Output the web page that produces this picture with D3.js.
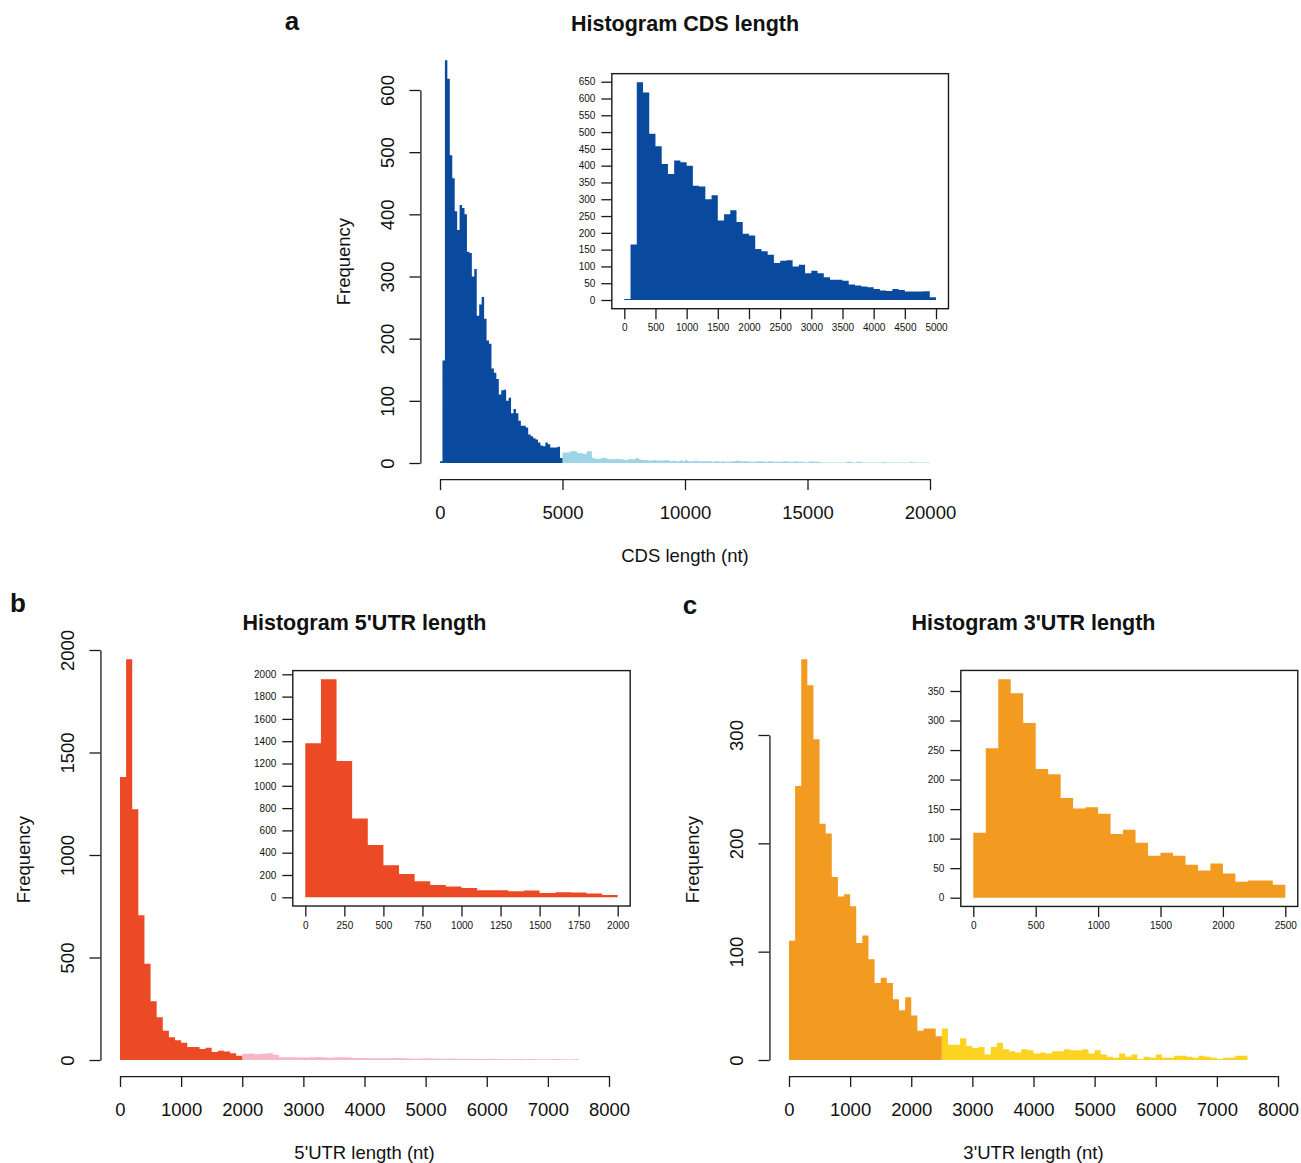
<!DOCTYPE html>
<html><head><meta charset="utf-8">
<script src="https://cdn.jsdelivr.net/npm/d3@7"></script>
<style>
body{margin:0;background:#fff}
svg{display:block}
text{font-family:"Liberation Sans",Arial,Helvetica,sans-serif;fill:#111}
</style>
</head><body>
<svg id="chart" width="1301" height="1163"></svg>
<script>
// ---------------- DATA ----------------
const binWidth = 100;

// CDS length, bins of 100 nt from 0 to 5000 (highlighted / inset)
const cdsCounts = [3,165,648,618,495,458,405,375,415,410,
  400,340,338,300,312,237,255,267,232,197,
  192,152,145,135,110,117,118,100,105,80,
  87,80,68,60,60,57,46,43,40,38,
  33,28,27,33,30,25,25,25,26,8];
// CDS length, bins of 100 nt from 5000 to 20000 (tail)
const cdsTailCounts = [17,17,17,19,19,19,16,16,15,15,
  19,19,8,7,7,7,8,8,7,6,
  6,6,7,6,6,5,5,7,6,6,
  8,6,5,5,5,4,4,5,4,4,
  4,4,5,4,3,4,3,3,4,3,
  5,3,3,3,4,3,3,3,3,3,
  3,2,3,3,2,3,2,2,2,3,
  3,4,3,3,3,3,2,2,2,3,
  3,3,2,2,3,3,2,2,2,2,
  3,3,2,2,2,3,2,2,2,1,
  2,3,2,2,2,1,1,1,1,1,
  1,1,1,1,1,1,2,2,1,1,
  2,2,1,1,1,1,1,1,1,1,
  1,2,1,1,1,1,1,1,1,1,
  1,1,2,1,1,1,1,1,1,1];

// 5'UTR length, bins of 100 nt from 0 to 2000
const utr5Counts = [1381,1955,1223,706,469,287,209,143,111,96,
  84,63,63,54,60,39,45,42,33,21];
// 5'UTR length, bins of 100 nt from 2000 to 7500
const utr5TailCounts = [30,32,28,30,33,26,14,14,13,12,
  12,13,15,12,11,13,14,12,10,10,
  9,8,9,8,9,10,8,7,6,7,
  8,7,6,6,7,6,5,6,5,5,
  6,5,5,4,5,5,4,5,4,4,
  4,5,4,3,4];

// 3'UTR length, bins of 100 nt from 0 to 2500
const utr3Counts = [110,253,370,346,296,218,209,169,151,153,
  142,108,115,93,71,76,71,56,46,58,
  41,27,29,29,22];
// 3'UTR length, bins of 100 nt from 2500 to 7500
const utr3TailCounts = [29,14,14,20,13,11,12,5,12,16,
  10,8,7,10,9,6,7,6,8,8,
  10,9,9,10,6,9,5,3,2,6,
  3,5,1,3,2,5,2,2,4,4,
  3,2,4,3,2,1,2,2,4,4];

// tick labels
const cdsXTicks = [0,5000,10000,15000,20000];
const cdsYTicks = [0,100,200,300,400,500,600];
const cdsInsetXTicks = d3.range(0,5001,500);
const cdsInsetYTicks = d3.range(0,651,50);
const utr5XTicks = d3.range(0,8001,1000);
const utr5YTicks = [0,500,1000,1500,2000];
const utr5InsetXTicks = d3.range(0,2001,250);
const utr5InsetYTicks = d3.range(0,2001,200);
const utr3XTicks = d3.range(0,8001,1000);
const utr3YTicks = [0,100,200,300];
const utr3InsetXTicks = d3.range(0,2501,500);
const utr3InsetYTicks = d3.range(0,351,50);

// titles
const titles = ["Histogram CDS length","Histogram 5'UTR length","Histogram 3'UTR length"];
const xTitles = ["CDS length (nt)","5'UTR length (nt)","3'UTR length (nt)"];
const panelLetters = ["a","b","c"];

// ---------------- DRAWING ----------------
const svg = d3.select("#chart");
const AXIS = "#1a1a1a";
const MAIN_FS = 18.5;

function makeBins(counts, start){
  return counts.map((c,i)=>({x0:start+i*binWidth, x1:start+(i+1)*binWidth, c}));
}

// one seamless step polygon per colour, built from the bins via the scales
function drawBars(g, bins, x, y, color){
  const p = d3.path();
  p.moveTo(x(bins[0].x0), y(0));
  bins.forEach(d=>{ p.lineTo(x(d.x0), y(d.c)); p.lineTo(x(d.x1), y(d.c)); });
  p.lineTo(x(bins[bins.length-1].x1), y(0));
  p.closePath();
  g.append("path").attr("d", p.toString()).attr("fill", color).attr("stroke","none");
}

function styleAxis(sel, size){
  sel.attr("font-size", null).attr("font-family", null);
  sel.selectAll("path.domain").attr("stroke", AXIS).attr("stroke-width", 1.3);
  sel.selectAll(".tick line").attr("stroke", AXIS).attr("stroke-width", 1.3);
  sel.selectAll("text").style("font-size", size+"px").attr("fill","#111");
}

function mainPanel(o){
  const g = svg.append("g");
  const x = d3.scaleLinear().domain([o.xTicks[0], o.xTicks[o.xTicks.length-1]]).range(o.xRange);
  const y = d3.scaleLinear().domain([o.yTicks[0], o.yTicks[o.yTicks.length-1]]).range(o.yRange);
  const mainBins = makeBins(o.counts, 0);
  const tailBins = makeBins(o.tail, o.counts.length*binWidth);
  drawBars(g, tailBins, x, y, o.tailColor);
  drawBars(g, mainBins, x, y, o.color);
  const maxC = d3.max(mainBins.concat(tailBins), d=>d.c);
  const padX = 0.04*(o.xRange[1]-o.xRange[0]);
  const padY = 0.04*(y(0)-y(maxC));
  const left = o.xRange[0]-padX, right = o.xRange[1]+padX;
  const bottom = y(0)+padY, top = y(maxC)-padY;

  const ya = g.append("g").attr("transform",`translate(${left},0)`)
    .call(d3.axisLeft(y).tickValues(o.yTicks).tickSize(11).tickSizeOuter(0).tickFormat(d3.format("d")));
  styleAxis(ya, MAIN_FS);
  ya.selectAll("text").attr("x",null).attr("dy","0.35em").attr("text-anchor","middle")
    .attr("transform","translate(-33,0) rotate(-90)");

  const xa = g.append("g").attr("transform",`translate(0,${bottom})`)
    .call(d3.axisBottom(x).tickValues(o.xTicks).tickSize(11).tickSizeOuter(0).tickFormat(d3.format("d")));
  styleAxis(xa, MAIN_FS);
  xa.selectAll("text").attr("y",null).attr("dy",null).attr("transform","translate(0,40)");

  const cx = (left+right)/2;
  g.append("text").attr("x",cx).attr("y",top-13).attr("text-anchor","middle")
    .style("font-size","21.5px").style("font-weight","bold").text(o.title);
  g.append("text").attr("x",cx).attr("y",bottom+83).attr("text-anchor","middle")
    .style("font-size",MAIN_FS+"px").text(o.xTitle);
  g.append("text").attr("transform",`translate(${left-77},${(top+bottom)/2}) rotate(-90)`)
    .attr("dy","0.35em").attr("text-anchor","middle").style("font-size",MAIN_FS+"px").text("Frequency");
  g.append("text").attr("x",o.letterPos[0]).attr("y",o.letterPos[1]).attr("text-anchor","middle")
    .attr("dy","0.35em").style("font-size","26px").style("font-weight","bold").text(o.letter);

  // inset
  const ix = d3.scaleLinear().domain([o.ixTicks[0], o.ixTicks[o.ixTicks.length-1]]).range(o.ixRange);
  const iy = d3.scaleLinear().domain([o.iyTicks[0], o.iyTicks[o.iyTicks.length-1]]).range(o.iyRange);
  const ig = svg.append("g");
  drawBars(ig, mainBins, ix, iy, o.color);
  const imax = d3.max(mainBins, d=>d.c);
  const ipx = 0.04*(o.ixRange[1]-o.ixRange[0]);
  const ipy = 0.04*(iy(0)-iy(imax));
  const bl = o.ixRange[0]-ipx, br = o.ixRange[1]+ipx, bb = iy(0)+ipy, bt = iy(imax)-ipy;
  const iya = ig.append("g").attr("transform",`translate(${bl},0)`)
    .call(d3.axisLeft(iy).tickValues(o.iyTicks).tickSize(10.5).tickPadding(6).tickSizeOuter(0).tickFormat(d3.format("d")));
  styleAxis(iya, 10);
  iya.select("path.domain").remove();
  const ixa = ig.append("g").attr("transform",`translate(0,${bb})`)
    .call(d3.axisBottom(ix).tickValues(o.ixTicks).tickSize(10.5).tickPadding(5).tickSizeOuter(0).tickFormat(d3.format("d")));
  styleAxis(ixa, 10);
  ixa.select("path.domain").remove();
  ig.append("rect").attr("x",bl).attr("y",bt).attr("width",br-bl).attr("height",bb-bt)
    .attr("fill","none").attr("stroke",AXIS).attr("stroke-width",1.4);
}

mainPanel({
  counts:cdsCounts, tail:cdsTailCounts, color:"#0a4a9e", tailColor:"#9fd3e6",
  xTicks:cdsXTicks, yTicks:cdsYTicks, xRange:[440,930], yRange:[463,90],
  title:titles[0], xTitle:xTitles[0], letter:panelLetters[0], letterPos:[292,21],
  ixTicks:cdsInsetXTicks, iyTicks:cdsInsetYTicks, ixRange:[624.3,936], iyRange:[300,81.7]
});
mainPanel({
  counts:utr5Counts, tail:utr5TailCounts, color:"#ec4a24", tailColor:"#f6b8c6",
  xTicks:utr5XTicks, yTicks:utr5YTicks, xRange:[120,609], yRange:[1060,650],
  title:titles[1], xTitle:xTitles[1], letter:panelLetters[1], letterPos:[18,603],
  ixTicks:utr5InsetXTicks, iyTicks:utr5InsetYTicks, ixRange:[305.3,617.7], iyRange:[897.3,674.3]
});
mainPanel({
  counts:utr3Counts, tail:utr3TailCounts, color:"#f39a20", tailColor:"#fdd321",
  xTicks:utr3XTicks, yTicks:utr3YTicks, xRange:[789,1278], yRange:[1060,735],
  title:titles[2], xTitle:xTitles[2], letter:panelLetters[2], letterPos:[690,605],
  ixTicks:utr3InsetXTicks, iyTicks:utr3InsetYTicks, ixRange:[973.3,1285.3], iyRange:[897.7,691]
});
</script>
</body></html>
